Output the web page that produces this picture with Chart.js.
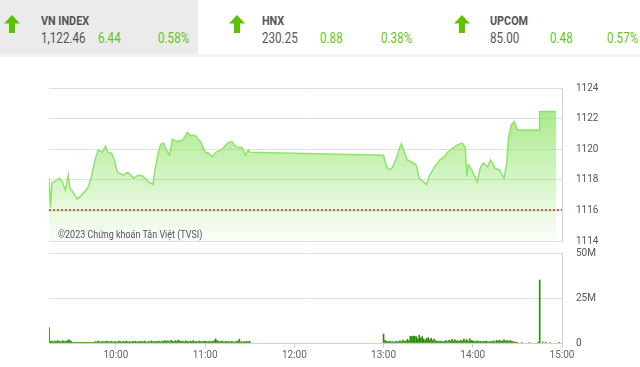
<!DOCTYPE html>
<html>
<head>
<meta charset="utf-8">
<script src="https://cdn.jsdelivr.net/npm/chart.js@4.4.0/dist/chart.umd.min.js"></script>
<style>
body { margin:0; width:640px; height:367px; background:#fff; overflow:hidden; position:relative; font-family:Roboto, sans-serif; }
.box { position:absolute; top:0; left:0; width:198px; height:54px; background:#ebebeb; }
.band { position:absolute; top:54px; left:0; width:640px; height:3px; background:#f3f3f3; }
.t { position:absolute; white-space:nowrap; transform-origin:0 0; transform:scaleX(0.83); color:#555; }
.name { font-size:13px; line-height:13px; font-weight:bold; top:14px; }
.num { font-size:14px; line-height:14px; top:31px; }
.up { color:#62c418; }
.arrow { position:absolute; top:15px; }
#copy { position:absolute; left:58px; top:229px; font-size:11.5px; line-height:11.5px; color:#555; white-space:nowrap; transform-origin:0 0; transform:scaleX(0.78); }
canvas { position:absolute; left:0; }
</style>
</head>
<body>
<div class="box"></div>
<div class="band"></div>
<div id="head"></div>
<canvas id="price" width="640" height="171" style="top:78px"></canvas>
<canvas id="vol" width="640" height="122" style="top:245px"></canvas>
<div id="copy">©2023 Chứng khoán Tân Việt (TVSI)</div>
<script>
// header quotes
var indexNames = ['VN INDEX', 'HNX', 'UPCOM']
var indexValues = ['1,122.46', '230.25', '85.00']
var indexChanges = ['6.44', '0.88', '0.48']
var indexPercents = ['0.58%', '0.38%', '0.57%']

// intraday VN-Index (time, value)
var priceTimes = ['09:15','09:16','09:17','09:19','09:22','09:24','09:26','09:28','09:29','09:31',
    '09:34','09:37','09:41','09:43','09:46','09:48','09:51','09:53','09:55','09:57',
    '09:59','10:01','10:05','10:08','10:12','10:15','10:18','10:22','10:25','10:26',
    '10:28','10:30','10:32','10:34','10:36','10:38','10:41','10:45','10:48','10:50',
    '10:53','10:57','11:00','11:02','11:05','11:07','11:11','11:15','11:18','11:21',
    '11:25','11:27','11:29','11:30',
    '13:00','13:02','13:04','13:06','13:09','13:11','13:12','13:14','13:16','13:20',
    '13:22','13:24','13:27','13:29','13:31','13:35','13:38','13:41','13:43','13:47',
    '13:50','13:53','13:55','13:56','13:57','13:58','14:00','14:03','14:05','14:07',
    '14:10','14:12','14:15','14:18','14:21','14:23','14:24','14:26','14:28','14:30',
    '14:45','14:45','14:56']
var priceValues = [1118.1,1116.2,1117.8,1117.9,1118.1,1117.85,1117.3,1118.3,1117.45,1117.2,
    1116.75,1117.0,1117.45,1118.0,1119.3,1119.95,1119.8,1120.2,1119.75,1119.75,
    1119.3,1118.5,1118.3,1118.5,1118.1,1118.3,1118.25,1117.85,1117.7,1118.5,
    1119.5,1120.3,1120.4,1119.95,1119.6,1120.65,1120.5,1120.6,1121.1,1120.9,
    1120.9,1120.5,1119.8,1119.75,1119.5,1119.8,1119.95,1120.4,1120.5,1120.15,
    1120.1,1119.6,1119.95,1119.8,
    1119.6,1118.85,1118.65,1118.8,1119.5,1120.15,1120.35,1119.8,1119.3,1119.1,
    1118.95,1118.1,1117.85,1117.7,1118.3,1118.95,1119.3,1119.5,1119.8,1120.1,
    1120.3,1120.4,1120.1,1118.2,1119.0,1118.85,1118.5,1117.85,1118.75,1119.1,
    1118.85,1119.3,1118.75,1118.65,1118.1,1119.15,1120.75,1121.6,1121.8,1121.25,
    1121.25,1122.46,1122.46]
var refValue = 1116.02

// volume per minute, millions
var morningStart = '09:15'
var morningVol = [8.5,
    0.9,1.1,0.7,1.0,0.8,1.3,0.9,0.7,1.2,1.0,0.8,1.1,1.8,1.4,0.9,
    0.3,0.2,0.3,0.2,0.2,0.3,0.2,0.3,0.2,0.2,0.3,0.2,0.3,0.2,0.3,
    0.8,0.6,1.0,0.7,0.5,0.9,0.6,0.8,1.1,0.7,0.6,0.9,0.5,0.8,0.7,
    0.6,1.0,0.8,0.5,0.9,0.7,1.1,0.6,0.8,0.5,0.9,0.7,1.0,0.6,0.8,
    0.7,0.9,0.6,1.0,0.8,0.5,0.9,0.7,1.2,0.6,0.8,0.9,0.7,1.0,0.6,
    1.1,0.8,1.4,0.9,1.2,0.7,1.5,1.0,0.8,1.3,0.9,1.6,1.1,0.8,1.0,
    0.7,1.2,0.9,0.6,1.0,0.8,1.3,0.7,0.9,0.6,1.1,0.8,0.7,1.0,0.9,
    0.8,0.6,1.0,0.7,0.9,1.2,2.3,1.4,0.9,0.7,1.1,0.8,0.6,0.9,0.7,
    0.8,0.6,0.9,0.5,0.7,0.8,1.0,2.0,0.7,0.5,0.8,0.6,0.9,0.7,1.0]
var afternoonStart = '13:00'
var afternoonVol = [5.0,
    1.5,0.9,0.7,1.0,0.6,0.8,0.5,0.7,0.9,0.6,1.2,0.8,1.6,0.9,1.1,
    2.0,1.4,3.8,3.6,3.9,3.7,3.5,2.4,4.3,2.8,3.6,2.2,1.6,2.5,3.0,
    1.8,2.6,1.4,2.2,1.2,1.0,0.8,1.1,0.9,0.7,1.0,1.3,0.8,1.5,1.1,
    2.0,1.2,1.8,1.0,1.4,0.9,1.6,1.1,2.2,1.3,1.9,1.0,2.4,1.5,1.2,
    0.9,0.7,1.2,0.8,1.0,0.6,0.9,0.8,1.1,0.7,0.6,0.9,0.8,1.2,0.7,
    1.4,1.0,1.6,0.9,1.2,1.8,1.1,1.5,0.9,1.3,1.0,0.8,0.6,0.5,0.3]
var lateTimes = ['14:33','14:38','14:44','14:45','14:47','14:49','14:52','14:58']
var lateVol = [0.4,0.3,0.5,35.0,0.6,0.5,0.3,0.4]

var axisStart = '09:15'
var axisEnd = '15:00'
var tickLabels = ['10:00','11:00','12:00','13:00','14:00','15:00']
var priceTicks = [1114, 1116, 1118, 1120, 1122, 1124]
var volTicks = [0, 25, 50]

function toMin(s) {
    var p = s.split(':')
    return parseInt(p[0]) * 60 + parseInt(p[1])
}

var arrowSvg = '<svg width="16" height="18" viewBox="0 0 16 18"><path d="M8 0 L16 8.5 L11 8.5 L11 18 L5 18 L5 8.5 L0 8.5 Z" fill="#5cc300"/></svg>'
var arrowX = [4, 229, 454]
var textX = [41, 262, 490]
var changeX = [98, 320, 550]
var pctX = [158, 381, 607]
var html = ''
for (var i = 0; i < indexNames.length; i++) {
    html += '<div class="arrow" style="left:' + arrowX[i] + 'px">' + arrowSvg + '</div>'
    html += '<div class="t name" style="left:' + textX[i] + 'px">' + indexNames[i] + '</div>'
    html += '<div class="t num" style="left:' + textX[i] + 'px">' + indexValues[i] + '</div>'
    html += '<div class="t num up" style="left:' + changeX[i] + 'px">' + indexChanges[i] + '</div>'
    html += '<div class="t num up" style="left:' + pctX[i] + 'px">' + indexPercents[i] + '</div>'
}
document.getElementById('head').innerHTML = html

var pricePts = priceTimes.map(function (t, i) { return {x: toMin(t), y: priceValues[i]} })
var refPts = [{x: toMin(axisStart), y: refValue}, {x: toMin(axisEnd), y: refValue}]

var volPts = []
morningVol.forEach(function (v, i) { volPts.push({x: toMin(morningStart) + i, y: v * 1e6}) })
afternoonVol.forEach(function (v, i) { volPts.push({x: toMin(afternoonStart) + i, y: v * 1e6}) })
lateTimes.forEach(function (t, i) { volPts.push({x: toMin(t), y: lateVol[i] * 1e6}) })

var tickFont = {family: 'Roboto, sans-serif', size: 10}
var lineCol = '#c5d3e2'
var gridCol = '#dedede'

function fixedWidth(s) { s.width = 78 }

// right axis: invisible tick marks push labels out, small padding keeps top/bottom tight
var rightGrid = {color: gridCol, drawTicks: true, tickLength: 12, tickColor: 'rgba(0,0,0,0)'}

new Chart(document.getElementById('price'), {
    type: 'line',
    data: {
        datasets: [
            {data: refPts, borderColor: '#d9533c', borderWidth: 2, borderDash: [2, 2], pointRadius: 0, fill: false},
            {
                data: pricePts, borderColor: '#8ee46a', borderWidth: 1.5, pointRadius: 0, tension: 0, fill: 'start',
                backgroundColor: function (ctx) {
                    var a = ctx.chart.chartArea
                    if (!a) return 'rgba(140,226,98,0.4)'
                    var g = ctx.chart.ctx.createLinearGradient(0, a.top, 0, a.bottom)
                    g.addColorStop(0, 'rgba(140,226,98,0.85)')
                    g.addColorStop(1, 'rgba(140,226,98,0.04)')
                    return g
                }
            }
        ]
    },
    options: {
        responsive: false, animation: false,
        layout: {padding: {left: 49, top: 10, bottom: 8, right: 0}},
        plugins: {legend: {display: false}, tooltip: {enabled: false}},
        scales: {
            x: {type: 'linear', min: toMin(axisStart), max: toMin(axisEnd), display: false},
            y: {
                position: 'right', min: priceTicks[0], max: priceTicks[priceTicks.length - 1],
                afterBuildTicks: function (s) { s.ticks = priceTicks.map(function (v) { return {value: v} }) },
                ticks: {padding: 2, color: '#555', font: tickFont, callback: function (v) { return String(v) }},
                grid: rightGrid,
                border: {display: true, color: lineCol},
                afterFit: fixedWidth
            }
        }
    }
})

new Chart(document.getElementById('vol'), {
    type: 'bar',
    data: {datasets: [{data: volPts, backgroundColor: '#2f8c06', barThickness: 1}]},
    options: {
        responsive: false, animation: false,
        layout: {padding: {left: 49, top: 8, bottom: 0, right: 0}},
        plugins: {legend: {display: false}, tooltip: {enabled: false}},
        scales: {
            x: {
                type: 'linear', offset: false, min: toMin(axisStart), max: toMin(axisEnd),
                afterBuildTicks: function (s) { s.ticks = tickLabels.map(function (t) { return {value: toMin(t)} }) },
                ticks: {callback: function (v, i) { return tickLabels[i] }, color: '#666', font: tickFont, padding: 1, autoSkip: false, maxRotation: 0},
                grid: {offset: false, drawOnChartArea: false, drawTicks: true, tickLength: 5, color: lineCol},
                border: {display: true, color: lineCol},
                afterFit: function (s) { s.height = 24 }
            },
            y: {
                position: 'right', min: 0, max: volTicks[volTicks.length - 1] * 1e6,
                afterBuildTicks: function (s) { s.ticks = volTicks.map(function (v) { return {value: v * 1e6} }) },
                ticks: {padding: 2, color: '#555', font: tickFont, callback: function (v) { return v ? (v / 1e6) + 'M' : '0' }},
                grid: rightGrid,
                border: {display: true, color: lineCol},
                afterFit: fixedWidth
            }
        }
    }
})
</script>
</body>
</html>
